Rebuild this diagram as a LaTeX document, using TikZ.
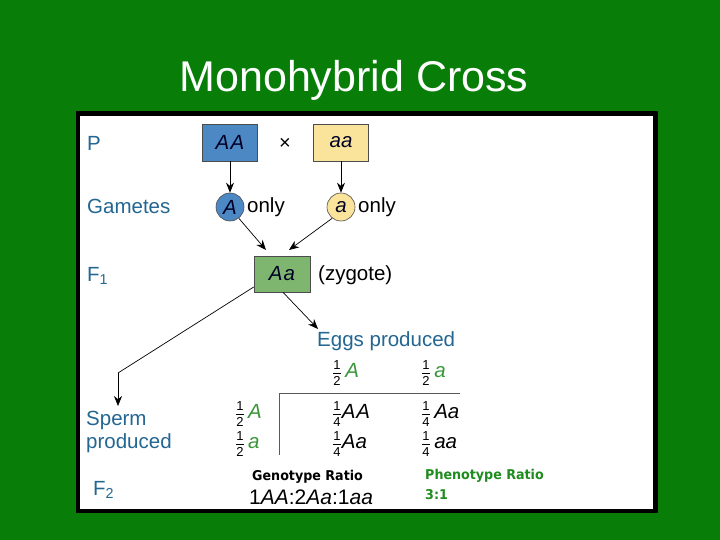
\documentclass[tikz,border=0pt]{standalone}
\usepackage{fontspec}
\setmainfont{Liberation Sans}
\newfontfamily\ratiofont[FakeStretch=0.94]{DejaVu Sans}
\usetikzlibrary{arrows.meta}
\definecolor{bggreen}{RGB}{8,126,8}
\definecolor{lblue}{RGB}{36,102,146}
\definecolor{boxblue}{RGB}{76,136,196}
\definecolor{boxyellow}{RGB}{250,228,156}
\definecolor{boxgreen}{RGB}{126,182,112}
\definecolor{allgreen}{RGB}{58,150,58}
\definecolor{phgreen}{RGB}{30,140,30}
\newcommand\fr[2]{$\frac{\mbox{\fontsize{13}{13}\selectfont #1}}{\mbox{\fontsize{13}{13}\selectfont #2}}$}
\newcommand\al[1]{{\color{allgreen}\textit{#1}}}
\begin{document}
\begin{tikzpicture}[x=1pt,y=-1pt,
  lbl/.style={anchor=west,inner sep=0pt,text=lblue,font=\fontsize{20.5}{23}\selectfont},
  txt/.style={anchor=west,inner sep=0pt,font=\fontsize{20.5}{23}\selectfont},
  gbox/.style={draw=black!70,line width=0.6pt,minimum width=55pt,minimum height=37pt,inner sep=0pt,text=black!85!blue,font=\fontsize{20.5}{23}\selectfont\itshape},
  gam/.style={circle,draw=black!70,line width=0.6pt,minimum size=28pt,inner sep=0pt,text=black!85!blue,font=\fontsize{20.5}{23}\selectfont\itshape},
  arr/.style={draw=black,line width=0.7pt,-{Stealth[length=10pt,width=8pt]}},
  tline/.style={draw=black!65,line width=1pt}]
\useasboundingbox (0,0) rectangle (720,540);
\fill[bggreen] (0,0) rectangle (720,540);
\fill[black] (76,111) rectangle (658,513);
\fill[white] (80,116) rectangle (653,509);
\node[text=white,font=\fontsize{43}{48}\selectfont] (title) at (354,80) {Monohybrid Cross};
% left labels
\node[lbl] (P) at (87,143) {P};
\node[lbl] (gametes) at (87,206) {Gametes};
\node[lbl] (F1) at (87,276) {F\textsubscript{1}};
\node[lbl,align=left] (sperm) at (86,432) {Sperm\\produced};
\node[lbl] (F2) at (93,490) {F\textsubscript{2}};
% parents
\node[gbox,fill=boxblue] (AA) at (230,142.5) {A\kern1.5pt A};
\node[gbox,fill=boxyellow] (aa) at (341,142.5) {aa};
\node[inner sep=0pt,font=\fontsize{20}{22}\selectfont] (cross) at (285,144) {×};
% gametes
\node[gam,fill=boxblue] (cA) at (230,207) {A};
\node[gam,fill=boxyellow] (ca) at (341,207) {a};
\node[txt] (onlyA) at (247,207) {only};
\node[txt] (onlya) at (358,207) {only};
% F1
\node[gbox,fill=boxgreen,minimum width=56pt,minimum height=36pt] (Aa) at (282,274) {A\kern1pt a};
\node[txt] (zyg) at (318,275) {(zygote)};
\draw[arr] (AA) -- (cA);
\draw[arr] (aa) -- (ca);
\coordinate (t1) at (266,250);
\coordinate (t2) at (289,250);
\draw[arr] (cA.-52) -- (t1);
\draw[arr] (ca.-128) -- (t2);
% eggs / sperm
\node[lbl] (eggs) at (317,341) {Eggs produced};
\coordinate (t4) at (318,329);
\draw[arr] (Aa.south) ++(1,0) coordinate (s4) (s4) -- (t4);
\coordinate (b3) at (118,373);
\coordinate (t3) at (118,406);
\draw[line width=0.7pt] (Aa.west) ++(0,13) coordinate (s3) (s3) -- (b3);
\draw[arr] (b3) -- (t3);
% table
\node[txt] (hA) at (332,373) {\fr{1}{2}\,\al{A}};
\node[txt] (ha) at (421,373) {\fr{1}{2}\,\al{a}};
\coordinate (tl) at (279,393);
\coordinate (tr) at (460,393);
\coordinate (tb) at (279,455);
\draw[tline] (tr) -- (tl) -- (tb);
\node[txt] (rA) at (235,414) {\fr{1}{2}\,\al{A}};
\node[txt] (ra) at (235,444) {\fr{1}{2}\,\al{a}};
\node[txt] (c11) at (332,414) {\fr{1}{4}\textit{A\kern1pt A}};
\node[txt] (c12) at (421,414) {\fr{1}{4}\,\textit{Aa}};
\node[txt] (c21) at (332,444) {\fr{1}{4}\textit{Aa}};
\node[txt] (c22) at (421,444) {\fr{1}{4}\,\textit{aa}};
% ratios
\node[anchor=west,inner sep=0pt,font=\ratiofont\bfseries\fontsize{13.5}{15}\selectfont] (geno) at (252,477) {Genotype Ratio};
\node[anchor=west,inner sep=0pt,font=\fontsize{21}{23}\selectfont] (genor) at (249,497) {1\textit{AA}:2\textit{Aa}:1\textit{aa}};
\node[anchor=west,inner sep=0pt,text=phgreen,font=\ratiofont\bfseries\fontsize{13.5}{15}\selectfont] (pheno) at (425,476) {Phenotype Ratio};
\node[anchor=west,inner sep=0pt,text=phgreen,font=\ratiofont\bfseries\fontsize{13.5}{15}\selectfont] (phenor) at (425,495) {3:1};
\end{tikzpicture}
\end{document}
